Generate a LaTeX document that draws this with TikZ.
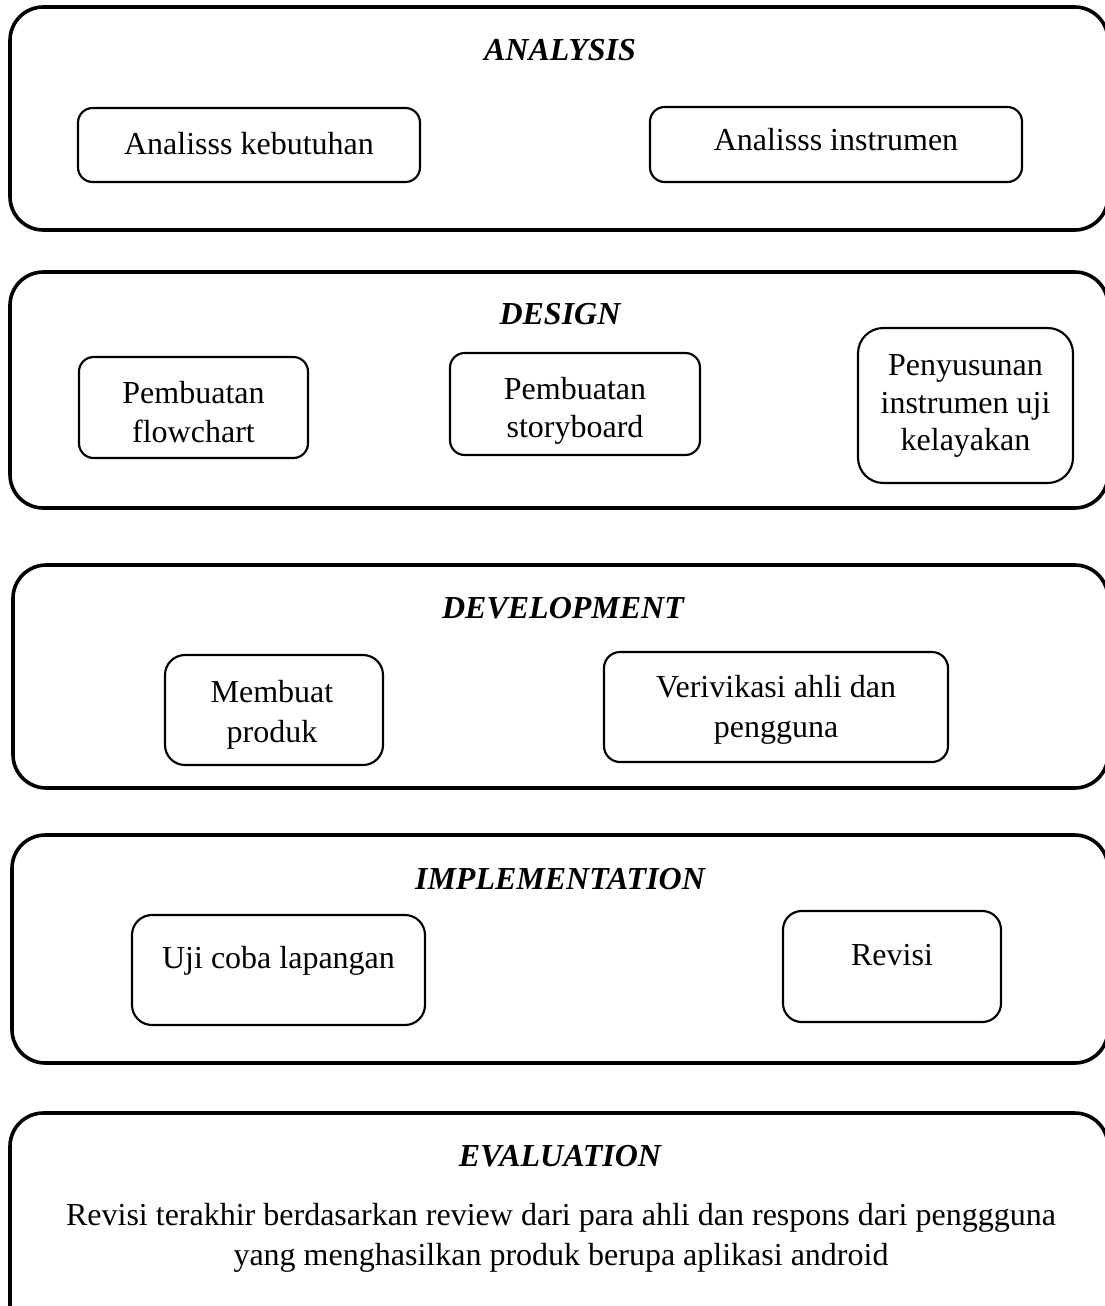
\documentclass[tikz,border=0pt]{standalone}
\usepackage{fontspec}
\setmainfont{Liberation Serif}
\begin{document}
\begin{tikzpicture}[x=0.75pt,y=-0.75pt,
  panel/.style={draw=black,line width=2.7pt,rounded corners=25pt,inner sep=0pt},
  inbox/.style={draw=black,line width=1.6pt,rounded corners=#1,inner sep=0pt},
  inbox/.default=11pt,
  txt/.style={anchor=base,inner sep=0pt,font=\fontsize{24}{30}\selectfont},
  ttl/.style={txt,font=\fontsize{24}{30}\selectfont\bfseries\itshape}]
\useasboundingbox (0,0) rectangle (1105,1306);
\clip (0,0) rectangle (1105,1306);
% panels
\node[panel,minimum width=1098*0.75pt,minimum height=223*0.75pt] (p1) at (559,118.5) {};
\node[panel,minimum width=1098*0.75pt,minimum height=236*0.75pt] (p2) at (559,390) {};
\node[panel,minimum width=1095*0.75pt,minimum height=223*0.75pt] (p3) at (560.5,676.5) {};
\node[panel,minimum width=1096*0.75pt,minimum height=228*0.75pt] (p4) at (560,949) {};
\node[panel,minimum width=1098*0.75pt,minimum height=227*0.75pt] (p5) at (559,1226.5) {};
% titles
\node[ttl] (t1) at (560,61) {ANALYSIS};
\node[ttl] (t2) at (560,324) {DESIGN};
\node[ttl] (t3) at (563,618) {DEVELOPMENT};
\node[ttl] (t4) at (560,889) {IMPLEMENTATION};
\node[ttl] (t5) at (560,1166) {EVALUATION};
% inner boxes
\node[inbox,minimum width=342*0.75pt,minimum height=74*0.75pt] (b1) at (249,145) {};
\node[inbox,minimum width=372*0.75pt,minimum height=75*0.75pt] (b2) at (836,144.5) {};
\node[inbox,minimum width=229*0.75pt,minimum height=101*0.75pt] (b3) at (193.5,407.5) {};
\node[inbox,minimum width=250*0.75pt,minimum height=102*0.75pt] (b4) at (575,404) {};
\node[inbox=19pt,minimum width=215*0.75pt,minimum height=155*0.75pt] (b5) at (965.5,405.5) {};
\node[inbox=15pt,minimum width=218*0.75pt,minimum height=110*0.75pt] (b6) at (274,710) {};
\node[inbox=12pt,minimum width=344*0.75pt,minimum height=110*0.75pt] (b7) at (776,707) {};
\node[inbox=15pt,minimum width=293*0.75pt,minimum height=110*0.75pt] (b8) at (278.5,970) {};
\node[inbox=14pt,minimum width=218*0.75pt,minimum height=111*0.75pt] (b9) at (892,966.5) {};
% box texts
\node[txt] (x1) at (249,154) {Analisss kebutuhan};
\node[txt] (x2) at (836,150) {Analisss instrumen};
\node[txt] (x3a) at (193.5,403) {Pembuatan};
\node[txt] (x3b) at (193.5,442) {flowchart};
\node[txt] (x4a) at (575,399) {Pembuatan};
\node[txt] (x4b) at (575,437) {storyboard};
\node[txt] (x5a) at (965.5,375) {Penyusunan};
\node[txt] (x5b) at (965.5,413) {instrumen uji};
\node[txt] (x5c) at (965.5,450) {kelayakan};
\node[txt] (x6a) at (272,702) {Membuat};
\node[txt] (x6b) at (272,742) {produk};
\node[txt] (x7a) at (776,697) {Verivikasi ahli dan};
\node[txt] (x7b) at (776,737) {pengguna};
\node[txt] (x8) at (278.5,968) {Uji coba lapangan};
\node[txt] (x9) at (892,965) {Revisi};
\node[txt] (x10a) at (561,1225) {Revisi terakhir berdasarkan review dari para ahli dan respons dari penggguna};
\node[txt] (x10b) at (561,1265) {yang menghasilkan produk berupa aplikasi android};
\end{tikzpicture}
\end{document}
